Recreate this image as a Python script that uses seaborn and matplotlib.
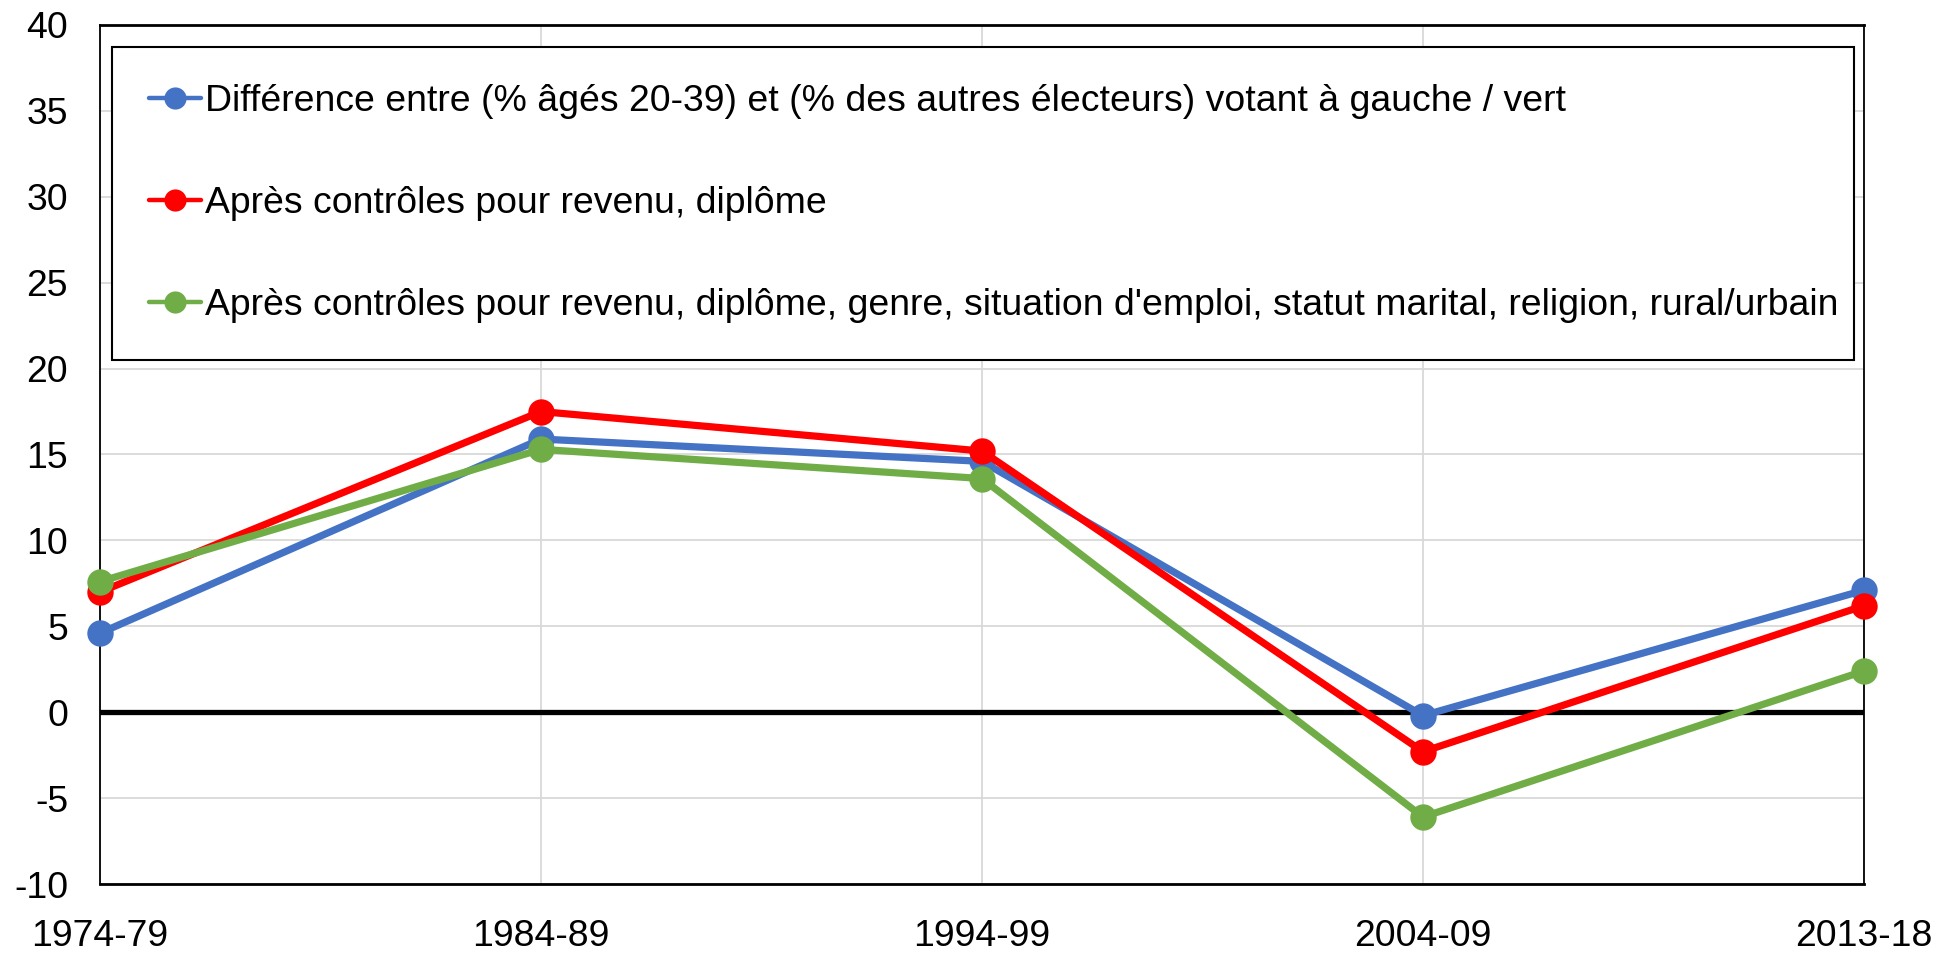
import matplotlib
matplotlib.use("Agg")
import matplotlib.pyplot as plt
import pandas as pd
import seaborn as sns

# Periods on the horizontal axis
periods = ["1974-79", "1984-89", "1994-99", "2004-09", "2013-18"]

# Series labels
label_raw = "Différence entre (% âgés 20-39) et (% des autres électeurs) votant à gauche / vert"
label_ctrl1 = "Après contrôles pour revenu, diplôme"
label_ctrl2 = ("Après contrôles pour revenu, diplôme, genre, situation d'emploi, "
               "statut marital, religion, rural/urbain")

# Values (percentage points)
raw_gap = [4.6, 15.9, 14.6, -0.2, 7.1]
ctrl_income_degree = [7.0, 17.5, 15.2, -2.3, 6.2]
ctrl_full = [7.6, 15.3, 13.6, -6.1, 2.4]

series_colors = ["#4472C4", "#FF0000", "#70AD47"]
series_labels = [label_raw, label_ctrl1, label_ctrl2]

rows = []
for label, vals in zip(series_labels, [raw_gap, ctrl_income_degree, ctrl_full]):
    for i, v in enumerate(vals):
        rows.append({"pos": i, "value": v, "serie": label})
df = pd.DataFrame(rows)

sns.set_theme(style="white")
plt.rcParams["font.family"] = ["Liberation Sans", "DejaVu Sans"]
plt.rcParams["axes.unicode_minus"] = False
plt.rcParams["text.color"] = "black"

FS = 26.9
LW = 5.2
MS = 19

fig = plt.figure(figsize=(19.4, 9.55), dpi=100)
ax = fig.add_axes([100 / 1940, 1 - 884 / 955, 1764 / 1940, 859 / 955])

# Grid
ax.set_axisbelow(True)
ax.grid(True, color="#d9d9d9", linewidth=1.3)

# Zero reference line
ax.axhline(0, color="black", linewidth=3.8, zorder=1.5)

sns.lineplot(
    data=df, x="pos", y="value", hue="serie",
    hue_order=series_labels,
    palette=series_colors, marker="o", markersize=MS, markeredgewidth=0,
    linewidth=LW, ax=ax, zorder=3, clip_on=False,
)
for ln in ax.lines[1:]:
    ln.set_linewidth(LW)
    ln.set_markersize(MS)
    ln.set_clip_on(False)

ax.set_xlim(0, len(periods) - 1)
ax.set_ylim(-10, 40)
ax.set_xticks(range(len(periods)))
ax.set_xticklabels(periods)
ax.set_yticks(range(-10, 41, 5))
ax.set_xlabel("")
ax.set_ylabel("")
ax.tick_params(axis="x", length=0, pad=25, labelsize=FS, labelcolor="black")
ax.tick_params(axis="y", length=0, pad=23, labelsize=FS, labelcolor="black")

for side, sp in ax.spines.items():
    sp.set_visible(True)
    sp.set_color("black")
    sp.set_linewidth(1.3)
ax.spines["top"].set_linewidth(2.0)
ax.spines["bottom"].set_linewidth(2.0)

leg = ax.legend(
    loc="upper left", bbox_to_anchor=(0.0068, 0.9744, 0.9875, 0.0), mode="expand",
    borderaxespad=0, frameon=True, fancybox=False, fontsize=FS,
    handlelength=1.4, handletextpad=0.1, labelspacing=1.8, borderpad=0.98,
    markerscale=0.84,
)
frame = leg.get_frame()
frame.set_edgecolor("black")
frame.set_linewidth(1.5)
frame.set_alpha(1)
for h in leg.get_lines():
    h.set_linewidth(3.2)
for t in leg.get_texts():
    t.set_color("black")

fig.savefig("out.png", dpi=100, facecolor="white")
